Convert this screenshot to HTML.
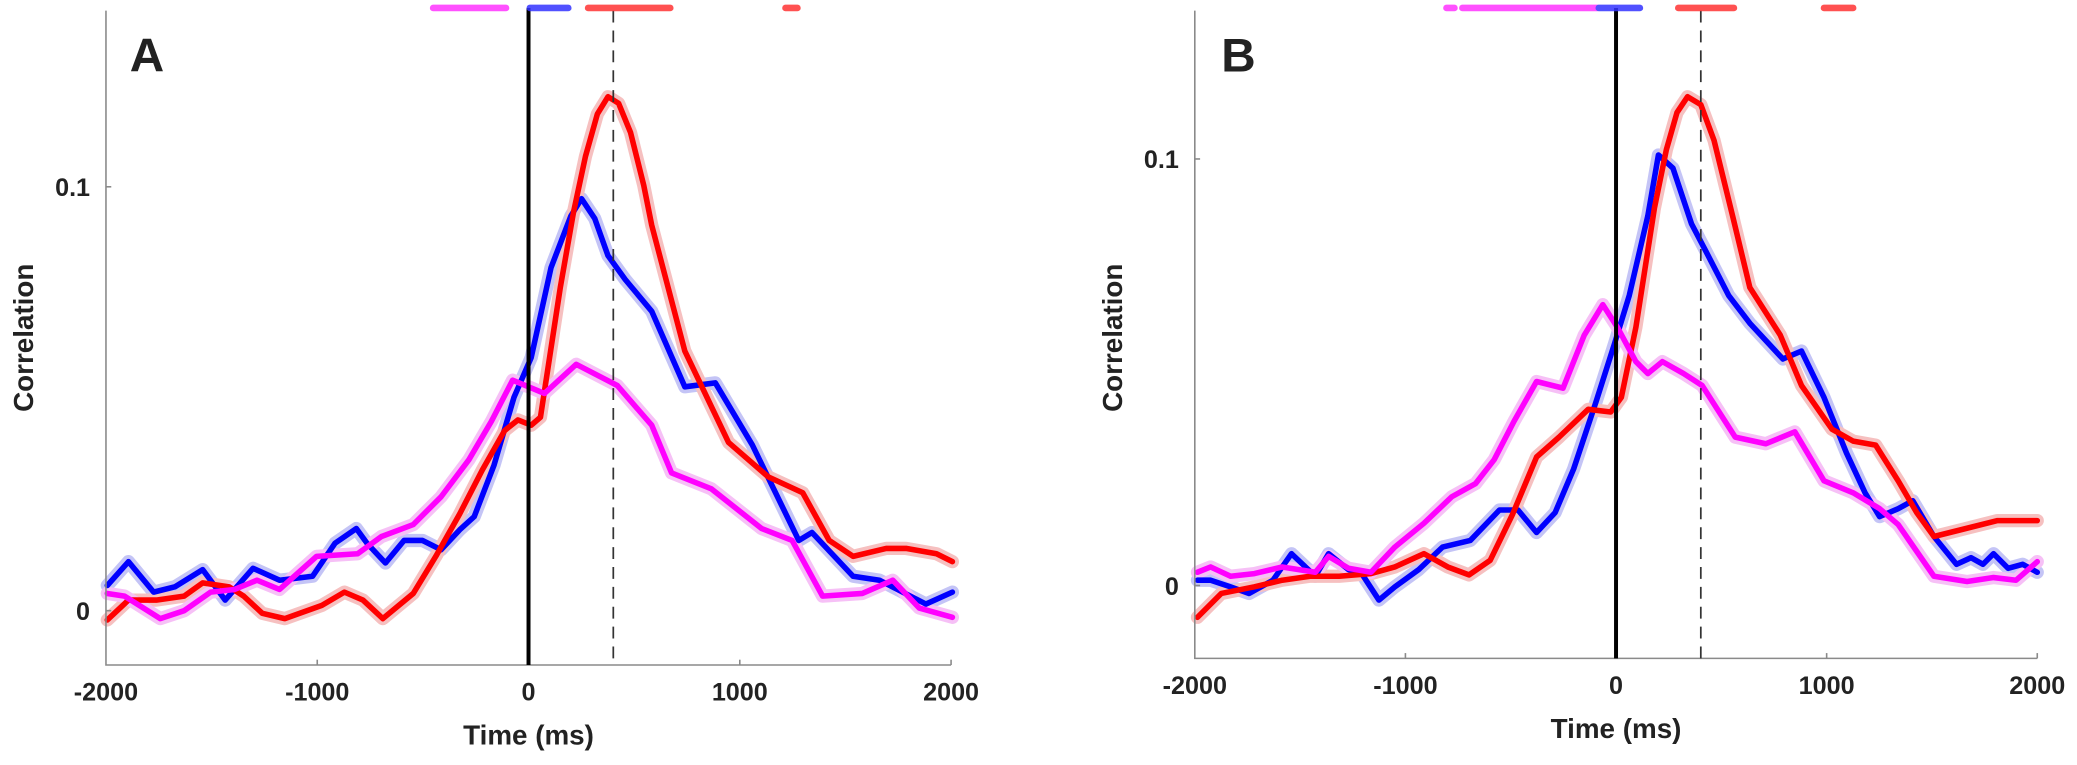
<!DOCTYPE html>
<html><head><meta charset="utf-8"><style>
html,body{margin:0;padding:0;background:#fff;}
svg{display:block;}
text{font-family:"Liberation Sans",Arial,sans-serif;font-weight:bold;fill:#222;}
</style></head><body>
<svg width="2077" height="765" viewBox="0 0 1568 577.5" preserveAspectRatio="none" xmlns="http://www.w3.org/2000/svg">
<rect width="1568" height="577.5" fill="#fff"/>
<g fill="none" stroke-linejoin="round" stroke-linecap="round">
<!-- Panel A bands -->
<polyline stroke="#c4c4f6" stroke-width="10" points="81,442 97,424 116,447 132,443 153,430 170,453 191,429 211,438 236,435 253,410 269,399 277,410 291,425 305,408 319,408 333,415 347,400 358,390 373,351 388,300 401,270 416,202 431,163 439,150 449,165 459,193 472,211 492,235 517,292 540,289 568,336 603,408 613,402 644,435 664,438 699,456 719,447"/>
<polyline stroke="#f6c0c0" stroke-width="10" points="81,468 97,453 118,453 139,450 153,440 173,443 184,450 198,463 215,467 243,457 260,447 274,453 289,467 312,448 329,420 347,388 364,355 381,325 391,317 401,321 408,315 423,217 433,160 442,118 451,86 459,73 467,78 476,100 486,140 492,170 517,265 550,334 580,360 606,372 626,408 644,420 669,414 684,414 707,418 719,424"/>
<polyline stroke="#f6c0f6" stroke-width="10" points="81,448 94,450 121,467 139,461 159,447 177,445 194,438 211,445 239,420 270,418 288,405 312,396 333,375 354,347 371,318 387,287 411,297 435,275 466,291 492,321 507,357 537,369 575,399 598,408 621,450 651,448 674,438 694,459 719,466"/>
<!-- Panel A lines -->
<polyline stroke="#0000ff" stroke-width="4.2" points="81,442 97,424 116,447 132,443 153,430 170,453 191,429 211,438 236,435 253,410 269,399 277,410 291,425 305,408 319,408 333,415 347,400 358,390 373,351 388,300 401,270 416,202 431,163 439,150 449,165 459,193 472,211 492,235 517,292 540,289 568,336 603,408 613,402 644,435 664,438 699,456 719,447"/>
<polyline stroke="#ff0000" stroke-width="4.2" points="81,468 97,453 118,453 139,450 153,440 173,443 184,450 198,463 215,467 243,457 260,447 274,453 289,467 312,448 329,420 347,388 364,355 381,325 391,317 401,321 408,315 423,217 433,160 442,118 451,86 459,73 467,78 476,100 486,140 492,170 517,265 550,334 580,360 606,372 626,408 644,420 669,414 684,414 707,418 719,424"/>
<polyline stroke="#ff00ff" stroke-width="4.2" points="81,448 94,450 121,467 139,461 159,447 177,445 194,438 211,445 239,420 270,418 288,405 312,396 333,375 354,347 371,318 387,287 411,297 435,275 466,291 492,321 507,357 537,369 575,399 598,408 621,450 651,448 674,438 694,459 719,466"/>

<!-- Panel B bands -->
<polyline stroke="#c4c4f6" stroke-width="10" points="904,438 914,438 929,443 943,448 961,438 975,418 993,435 1003,418 1018,430 1028,433 1041,453 1053,443 1071,430 1089,413 1110,408 1132,385 1146,385 1160,402 1174,387 1188,354 1205,303 1219,259 1230,223 1244,163 1252,117 1263,127 1277,169 1288,190 1305,223 1321,244 1346,271 1360,265 1377,300 1394,342 1408,372 1419,390 1433,384 1444,378 1460,405 1477,426 1488,421 1497,426 1505,418 1516,429 1527,426 1538,432"/>
<polyline stroke="#f6c0c0" stroke-width="10" points="904,466 922,448 947,443 968,438 989,435 1011,435 1035,433 1053,428 1075,418 1093,428 1109,434 1125,423 1142,388 1160,345 1177,330 1199,309 1216,311 1224,300 1235,247 1249,157 1258,113 1266,85 1274,73 1284,79 1294,106 1308,163 1321,217 1344,253 1360,291 1383,324 1399,333 1416,336 1433,363 1447,387 1460,405 1480,400 1508,393 1538,393"/>
<polyline stroke="#f6c0f6" stroke-width="10" points="904,432 914,428 929,435 947,433 968,428 993,432 1003,420 1018,429 1035,432 1053,413 1075,395 1096,375 1114,365 1128,347 1143,318 1160,288 1180,293 1196,253 1210,230 1221,247 1235,273 1244,282 1255,273 1271,282 1285,291 1310,330 1333,335 1355,326 1377,363 1399,372 1419,384 1433,396 1460,435 1485,439 1505,436 1522,438 1538,424"/>
<!-- Panel B lines -->
<polyline stroke="#0000ff" stroke-width="4.2" points="904,438 914,438 929,443 943,448 961,438 975,418 993,435 1003,418 1018,430 1028,433 1041,453 1053,443 1071,430 1089,413 1110,408 1132,385 1146,385 1160,402 1174,387 1188,354 1205,303 1219,259 1230,223 1244,163 1252,117 1263,127 1277,169 1288,190 1305,223 1321,244 1346,271 1360,265 1377,300 1394,342 1408,372 1419,390 1433,384 1444,378 1460,405 1477,426 1488,421 1497,426 1505,418 1516,429 1527,426 1538,432"/>
<polyline stroke="#ff0000" stroke-width="4.2" points="904,466 922,448 947,443 968,438 989,435 1011,435 1035,433 1053,428 1075,418 1093,428 1109,434 1125,423 1142,388 1160,345 1177,330 1199,309 1216,311 1224,300 1235,247 1249,157 1258,113 1266,85 1274,73 1284,79 1294,106 1308,163 1321,217 1344,253 1360,291 1383,324 1399,333 1416,336 1433,363 1447,387 1460,405 1480,400 1508,393 1538,393"/>
<polyline stroke="#ff00ff" stroke-width="4.2" points="904,432 914,428 929,435 947,433 968,428 993,432 1003,420 1018,429 1035,432 1053,413 1075,395 1096,375 1114,365 1128,347 1143,318 1160,288 1180,293 1196,253 1210,230 1221,247 1235,273 1244,282 1255,273 1271,282 1285,291 1310,330 1333,335 1355,326 1377,363 1399,372 1419,384 1433,396 1460,435 1485,439 1505,436 1522,438 1538,424"/>
</g>

<!-- Axes -->
<g stroke="#8a8a8a" stroke-width="1.2" fill="none">
<polyline points="80,8 80,502 718,502"/>
<line x1="80" y1="141" x2="84" y2="141"/><line x1="80" y1="461" x2="84" y2="461"/>
<line x1="239.5" y1="502" x2="239.5" y2="498"/><line x1="558.5" y1="502" x2="558.5" y2="498"/><line x1="718" y1="502" x2="718" y2="498"/>
<polyline points="902,8 902,497 1538,497"/>
<line x1="902" y1="120" x2="906" y2="120"/><line x1="902" y1="442" x2="906" y2="442"/>
<line x1="1061" y1="497" x2="1061" y2="493"/><line x1="1379" y1="497" x2="1379" y2="493"/><line x1="1538" y1="497" x2="1538" y2="493"/>
</g>
<line x1="399" y1="6" x2="399" y2="502" stroke="#000" stroke-width="3"/>
<line x1="463" y1="8" x2="463" y2="502" stroke="#333" stroke-width="1.3" stroke-dasharray="9,6"/>
<line x1="1220" y1="6" x2="1220" y2="497" stroke="#000" stroke-width="3"/>
<line x1="1284" y1="8" x2="1284" y2="497" stroke="#333" stroke-width="1.3" stroke-dasharray="9,6"/>

<!-- significance bars -->
<g stroke-width="5" stroke-linecap="round" opacity="0.85">
<line x1="327" y1="6" x2="382" y2="6" stroke="#ff33ff"/>
<line x1="400" y1="6" x2="429" y2="6" stroke="#3333ff"/>
<line x1="444" y1="6" x2="506" y2="6" stroke="#ff3333"/>
<line x1="593" y1="6" x2="602" y2="6" stroke="#ff3333"/>
<line x1="1092" y1="6" x2="1098" y2="6" stroke="#ff33ff"/>
<line x1="1104" y1="6" x2="1206" y2="6" stroke="#ff33ff"/>
<line x1="1207" y1="6" x2="1238" y2="6" stroke="#3333ff"/>
<line x1="1267" y1="6" x2="1309" y2="6" stroke="#ff3333"/>
<line x1="1377" y1="6" x2="1399" y2="6" stroke="#ff3333"/>
</g>

<text x="98" y="54" font-size="36" fill="#000">A</text>
<text x="68" y="148" font-size="19" text-anchor="end">0.1</text>
<text x="68" y="468" font-size="19" text-anchor="end">0</text>
<g font-size="19" text-anchor="middle">
<text x="80" y="529">-2000</text><text x="239.5" y="529">-1000</text><text x="399" y="529">0</text><text x="558.5" y="529">1000</text><text x="718" y="529">2000</text>
</g>
<text x="399" y="562" font-size="21" text-anchor="middle">Time (ms)</text>
<text transform="translate(25,255) rotate(-90)" font-size="21" text-anchor="middle">Correlation</text>

<text x="922" y="54" font-size="36" fill="#000">B</text>
<text x="890" y="127" font-size="19" text-anchor="end">0.1</text>
<text x="890" y="449" font-size="19" text-anchor="end">0</text>
<g font-size="19" text-anchor="middle">
<text x="902" y="524">-2000</text><text x="1061" y="524">-1000</text><text x="1220" y="524">0</text><text x="1379" y="524">1000</text><text x="1538" y="524">2000</text>
</g>
<text x="1220" y="557" font-size="21" text-anchor="middle">Time (ms)</text>
<text transform="translate(847,255) rotate(-90)" font-size="21" text-anchor="middle">Correlation</text>
</svg>
</body></html>
